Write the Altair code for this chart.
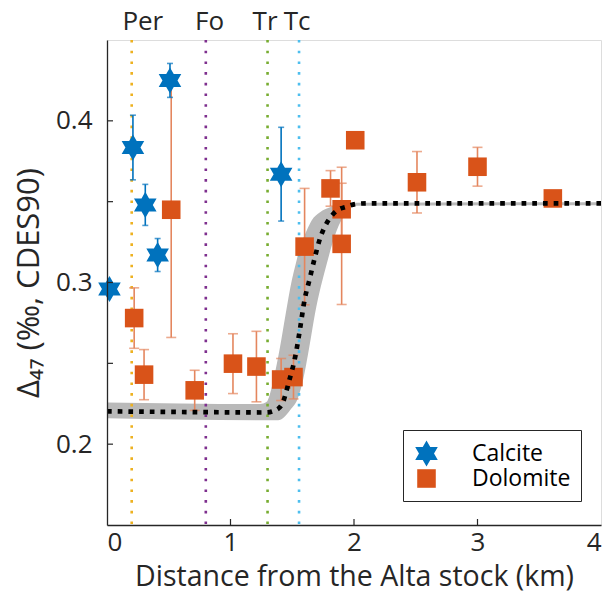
import altair as alt
import pandas as pd

FONT = "Open Sans, Noto Sans, DejaVu Sans"
INK = "#262626"

# Calcite samples: distance (km), Δ47 (‰), 1σ error
calc_x = [0.02, 0.21, 0.31, 0.41, 0.51, 1.41]
calc_y = [0.296, 0.3835, 0.348, 0.317, 0.425, 0.367]
calc_err = [0.0, 0.020, 0.0127, 0.0102, 0.0105, 0.029]

# Dolomite samples
dolo_x = [0.22, 0.30, 0.52, 0.71, 1.02, 1.21, 1.41, 1.51, 1.60, 1.81, 1.90, 1.90,
          2.01, 2.51, 3.00, 3.61]
dolo_y = [0.278, 0.243, 0.345, 0.2333, 0.2498, 0.248, 0.240, 0.2415, 0.3222, 0.3582,
          0.3453, 0.3239, 0.388, 0.362, 0.3716, 0.352]
dolo_err = [0.0187, 0.0155, 0.079, 0.0124, 0.0185, 0.0218, 0.013, 0.0135, 0.036, 0.011,
            0.026, 0.0375, 0.0, 0.019, 0.012, 0.0]

# Best-fit model curve
model_x = [0.0, 1.0, 1.29, 1.37, 1.42, 1.47, 1.53, 1.56, 1.60, 1.64, 1.68, 1.725,
           1.757, 1.80, 1.86, 1.94, 2.02, 2.11, 4.0]
model_y = [0.2203, 0.2197, 0.2196, 0.2212, 0.2251, 0.2378, 0.2564, 0.2699, 0.2893,
           0.3019, 0.3146, 0.3273, 0.3335, 0.3393, 0.3444, 0.3469, 0.3486, 0.349, 0.349]

# Model uncertainty envelope (upper and lower edges)
band_hi_x = [0.0, 1.24, 1.293, 1.312, 1.347, 1.401, 1.447, 1.496, 1.528, 1.563, 1.617,
             1.657, 1.725, 1.806, 1.984, 4.0]
band_hi_y = [0.2258, 0.2248, 0.2262, 0.2292, 0.2395, 0.2601, 0.2807, 0.3012, 0.3115,
             0.3218, 0.3321, 0.3383, 0.3434, 0.3465, 0.3494, 0.3497]
band_lo_x = [0.0, 1.385, 1.482, 1.549, 1.587, 1.638, 1.684, 1.779, 1.860, 1.927, 1.984, 4.0]
band_lo_y = [0.2160, 0.2148, 0.2210, 0.2292, 0.2395, 0.2601, 0.2807, 0.3115, 0.3321,
             0.3424, 0.3475, 0.3478]

# Metamorphic isograds
zone_x = [0.2, 0.8, 1.3, 1.555]
zone_names = ["Per", "Fo", "Tr", "Tc"]
zone_label_x = [0.29, 0.83, 1.28, 1.54]
zone_colors = ["#EDB120", "#7E2F8E", "#77AC30", "#4DBEEE"]

y_ticks = [0.2, 0.25, 0.3, 0.35, 0.4]
y_labels = [0.2, 0.3, 0.4]
x_ticks = [1, 2, 3]
x_labels = [0, 1, 2, 3, 4]

W, H = 494, 485
HEX = ("M0,-1L0.2887,-0.5L0.866,-0.5L0.5774,0L0.866,0.5L0.2887,0.5L0,1"
       "L-0.2887,0.5L-0.866,0.5L-0.5774,0L-0.866,-0.5L-0.2887,-0.5Z")

xs = alt.Scale(domain=[0, 4], nice=False, zero=False)
ys = alt.Scale(domain=[0.15, 0.45], nice=False, zero=False)
x_axis = alt.Axis(values=x_labels, format="d", ticks=False, tickSize=0, grid=False,
                  labelFont=FONT, labelFontSize=26, labelColor=INK, labelPadding=4,
                  domainColor=INK, domainWidth=1.3, titleFont=FONT, titleFontSize=28.5,
                  titleFontWeight="normal", titleColor=INK, titlePadding=7, zindex=1)
y_axis = alt.Axis(values=y_labels, format=".1f", ticks=False, tickSize=0, grid=False,
                  labelFont=FONT, labelFontSize=26, labelColor=INK, labelPadding=15,
                  domainColor=INK, domainWidth=1.3, titleFont=FONT, titleFontSize=31,
                  titleFontWeight="normal", titleColor=INK, titlePadding=10, zindex=1)
X_TITLE = "Distance from the Alta stock (km)"
Y_TITLE = "Δ₄₇ (‰, CDES90)"


def X(f="x"):
    return alt.X(f"{f}:Q", scale=xs, axis=x_axis, title=X_TITLE)


def Y(f="y"):
    return alt.Y(f"{f}:Q", scale=ys, axis=y_axis, title=Y_TITLE)


band_hi = pd.DataFrame({"x": band_hi_x, "y": band_hi_y})
band_lo = pd.DataFrame({"x": band_lo_x, "y": band_lo_y})
model = pd.DataFrame({"x": model_x, "y": model_y})
zones = pd.DataFrame({"x": zone_x, "name": zone_names, "lx": zone_label_x, "c": zone_colors})

calc = pd.DataFrame({"x": calc_x, "y": calc_y, "err": calc_err, "mineral": "Calcite"})
dolo = pd.DataFrame({"x": dolo_x, "y": dolo_y, "err": dolo_err, "mineral": "Dolomite"})
pts = pd.concat([dolo, calc], ignore_index=True)


def bars(df):
    d = df[df["err"] > 0].copy()
    d["lo"] = d["y"] - d["err"]
    d["hi"] = d["y"] + d["err"]
    caps = pd.concat([d[["x", "lo"]].rename(columns={"lo": "y"}),
                      d[["x", "hi"]].rename(columns={"hi": "y"})], ignore_index=True)
    return d, caps


cb, cc = bars(calc)
db, dc = bars(dolo)

upper = alt.Chart(band_hi).mark_area(color="#b9b9b9", interpolate="monotone").encode(
    x=X(), y=Y(), y2=alt.datum(0.15))
lower = alt.Chart(band_lo).mark_area(color="white", interpolate="monotone").encode(
    x=X(), y=Y(), y2=alt.datum(0.15))

zone_lines = alt.Chart(zones).mark_rule(strokeWidth=2.6, strokeDash=[2.6, 8.1]).encode(
    x=X(), color=alt.Color("c:N", scale=None))
zone_text = alt.Chart(zones).mark_text(font=FONT, fontSize=26, color=INK,
                                       baseline="alphabetic", align="center").encode(
    x=X("lx"), y=alt.value(-10), text="name:N")

ORANGE_BAR = "#E4865E"
dolo_rule = alt.Chart(db).mark_rule(color=ORANGE_BAR, strokeWidth=1.6).encode(
    x=X(), y=Y("lo"), y2="hi:Q")
dolo_caps = alt.Chart(dc).mark_tick(color=ORANGE_BAR, orient="horizontal", size=10,
                                    thickness=1.6).encode(x=X(), y=Y())
calc_rule = alt.Chart(cb).mark_rule(color="#0072BD", strokeWidth=1.6).encode(
    x=X(), y=Y("lo"), y2="hi:Q")
calc_caps = alt.Chart(cc).mark_tick(color="#0072BD", orient="horizontal", size=6,
                                    thickness=1.6).encode(x=X(), y=Y())

leg = alt.Legend(orient="none", legendX=296, legendY=390, title=None, labelFont=FONT,
                 labelFontSize=23, labelColor="black", padding=10, rowPadding=0,
                 labelOffset=32, strokeColor=INK, fillColor="white", symbolStrokeWidth=0)
points = alt.Chart(pts).mark_point(filled=True, opacity=1, strokeWidth=0).encode(
    x=X(), y=Y(),
    color=alt.Color("mineral:N", scale=alt.Scale(domain=["Calcite", "Dolomite"],
                                                 range=["#0072BD", "#D95319"]),
                    legend=leg, title=None),
    shape=alt.Shape("mineral:N", scale=alt.Scale(domain=["Calcite", "Dolomite"],
                                                 range=[HEX, "square"]),
                    legend=leg, title=None),
    size=alt.Size("mineral:N", scale=alt.Scale(domain=["Calcite", "Dolomite"],
                                               range=[680, 345]),
                  legend=leg, title=None),
    order=alt.Order("ord:Q"),
).transform_calculate(ord="datum.mineral == 'Calcite' ? 1 : 0")

curve = alt.Chart(model).mark_line(color="black", strokeWidth=4.7, strokeDash=[4.7, 6],
                                   strokeCap="butt", interpolate="monotone").encode(
    x=X(), y=Y())

ytick = alt.Chart(pd.DataFrame({"y": y_ticks})).mark_rule(color=INK, strokeWidth=1.2).encode(
    y=Y(), x=alt.value(0), x2=alt.value(6))
xtick = alt.Chart(pd.DataFrame({"x": x_ticks})).mark_rule(color=INK, strokeWidth=1.2).encode(
    x=X(), y=alt.value(H), y2=alt.value(H - 6))

chart = alt.layer(
    upper, lower, zone_lines, zone_text, dolo_rule, dolo_caps, calc_rule, calc_caps,
    points, curve, ytick, xtick
).properties(
    width=W, height=H,
    autosize=alt.AutoSizeParams(type="none"),
    padding={"left": 107, "top": 40, "right": 9, "bottom": 76},
).configure_view(stroke=INK, strokeWidth=1.2).configure(background="white")

chart.save("out.html", embed_options={"renderer": "svg", "actions": False})
